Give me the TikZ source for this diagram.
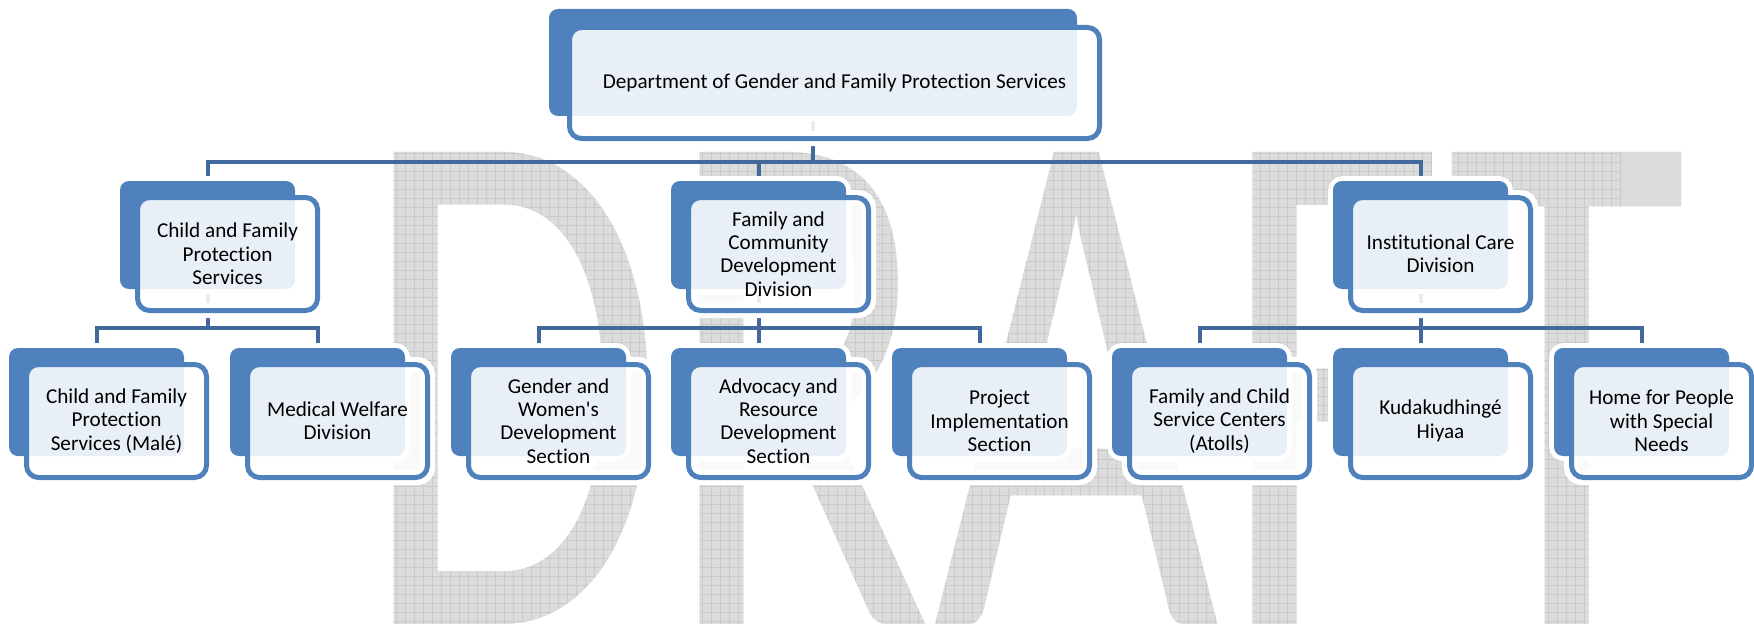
\documentclass[tikz,border=0pt]{standalone}
\usepackage{fontspec}
\setmainfont{Carlito}[Ligatures={TeX,NoCommon}]
\definecolor{tabblue}{HTML}{4F81BD}
\definecolor{linkblue}{HTML}{41699B}
\definecolor{wmgray}{HTML}{DCDCDC}
\definecolor{wmline}{HTML}{A8A8A8}
\pgfdeclarelayer{back}
\pgfdeclarelayer{halo}
\pgfsetlayers{back,halo,main}

\begin{document}
\begin{tikzpicture}
    [
    x=0.5pt, y=-0.5pt,
    tab/.style={rectangle,rounded corners=4.5pt,fill=tabblue,inner sep=0pt,outer sep=0pt,
      minimum width=87.5pt,minimum height=54pt},
    card/.style={rectangle,rounded corners=6pt,draw=tabblue,line width=2.5pt,
      fill=white,fill opacity=0.88,text opacity=1,inner sep=0pt,outer sep=0pt,
      minimum width=90pt,minimum height=56.5pt,align=center,
      font=\fontsize{10.6}{11.7}\selectfont},
    link/.style={draw=linkblue,line width=2pt},
    halo/.style={draw=white,line width=#1,rounded corners=5pt},
    halo/.default=5pt,
    wmgrid/.style={draw=wmline,line width=0.5pt,step=4.5pt,blend mode=color burn}
    ]
    \useasboundingbox (0,0) rectangle (1754,626);

    % head of the department
    \node (dgf-tab) at (813,62.5) [tab, minimum width=264pt, minimum height=53.5pt] {};
    \node (dgf) at (834.5,83) [card, minimum width=265pt, minimum height=55.5pt]
      {Department of Gender and Family Protection Services};

    % divisions
    \node (cfps-tab) at (207.5,235) [tab] {};
    \node (cfps) at (227.5,254) [card] {Child and Family\\Protection\\Services};
    \node (fcdd-tab) at (758.5,235) [tab] {};
    \node (fcdd) at (778.5,254) [card] {Family and\\Community\\Development\\Division};
    \node (icd-tab) at (1420.5,235) [tab] {};
    \node (icd) at (1440.5,254) [card] {Institutional Care\\Division};

    % sections
    \node (cfpsm-tab) at (96.5,402) [tab] {};
    \node (cfpsm) at (116.5,421) [card] {Child and Family\\Protection\\Services (Malé)};
    \node (mwd-tab) at (317.5,402) [tab] {};
    \node (mwd) at (337.5,421) [card] {Medical Welfare\\Division};
    \node (gwds-tab) at (538.5,402) [tab] {};
    \node (gwds) at (558.5,421) [card] {Gender and\\Women\textquotesingle s\\Development\\Section};
    \node (ards-tab) at (758.5,402) [tab] {};
    \node (ards) at (778.5,421) [card] {Advocacy and\\Resource\\Development\\Section};
    \node (pis-tab) at (979.5,402) [tab] {};
    \node (pis) at (999.5,421) [card] {Project\\Implementation\\Section};
    \node (fcsc-tab) at (1199.5,402) [tab] {};
    \node (fcsc) at (1219.5,421) [card] {Family and Child\\Service Centers\\(Atolls)};
    \node (kh-tab) at (1420.5,402) [tab] {};
    \node (kh) at (1440.5,421) [card] {Kudakudhingé\\Hiyaa};
    \node (hpsn-tab) at (1641.5,402) [tab] {};
    \node (hpsn) at (1661.5,421) [card] {Home for People\\with Special\\Needs};

    % white rims round every box
    \begin{pgfonlayer}{halo}
      \foreach \n in {dgf,cfps,fcdd,icd,cfpsm,mwd,gwds,ards,pis,fcsc,kh,hpsn}
      {
        \draw [halo] (\n-tab.south west) rectangle (\n-tab.north east);
        \draw [halo=7.5pt] (\n.south west) rectangle (\n.north east);
      }
    \end{pgfonlayer}

    \begin{pgfonlayer}{back}
      \fill [white] (0,0) rectangle (1754,626);
      % watermark, with a grid that only darkens the grey letters
      \node (wm) at (1024,624) [anchor=base, text=wmgray, inner sep=0pt]
        {\fontsize{368}{368}\selectfont\scalebox{0.672}[1]{DRAFT}};
      \draw [wmgrid] (360,140) grid (1620,626);

      \coordinate (bus1) at (0,162);
      \coordinate (bus2) at (0,328);
      \draw [link] (dgf-tab.south) -- (dgf-tab.south |- bus1) -| (cfps-tab.north);
      \draw [link] (dgf-tab.south |- bus1) -| (fcdd-tab.north);
      \draw [link] (dgf-tab.south |- bus1) -| (icd-tab.north);

      \draw [link] (cfps-tab.south) -- (cfps-tab.south |- bus2) -| (cfpsm-tab.north);
      \draw [link] (cfps-tab.south |- bus2) -| (mwd-tab.north);

      \draw [link] (fcdd-tab.south) -- (fcdd-tab.south |- bus2) -| (gwds-tab.north);
      \draw [link] (fcdd-tab.south |- bus2) -- (ards-tab.north);
      \draw [link] (fcdd-tab.south |- bus2) -| (pis-tab.north);

      \draw [link] (icd-tab.south) -- (icd-tab.south |- bus2) -| (fcsc-tab.north);
      \draw [link] (icd-tab.south |- bus2) -- (kh-tab.north);
      \draw [link] (icd-tab.south |- bus2) -| (hpsn-tab.north);
    \end{pgfonlayer}
\end{tikzpicture}
\end{document}
